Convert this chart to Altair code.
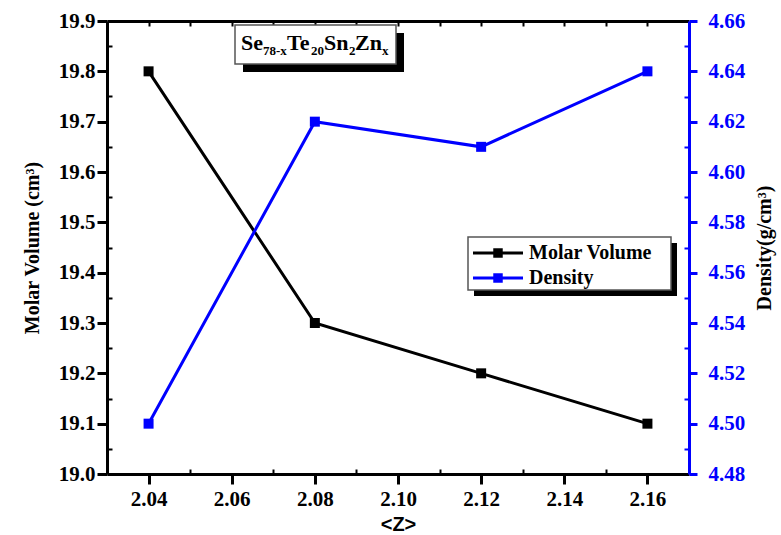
import altair as alt
import pandas as pd

# Average coordination number <Z> and the two measured properties
z = [2.04, 2.08, 2.12, 2.16]
molar_volume = [19.8, 19.3, 19.2, 19.1]
density = [4.50, 4.62, 4.61, 4.64]

# Axis ranges and tick positions
x_domain = [2.03, 2.17]
x_major = [2.04, 2.06, 2.08, 2.10, 2.12, 2.14, 2.16]
x_minor = [2.05, 2.07, 2.09, 2.11, 2.13, 2.15]
x_top = [2.04, 2.05, 2.06, 2.07, 2.08, 2.09, 2.10, 2.11, 2.12, 2.13, 2.14, 2.15, 2.16]
mv_domain = [19.0, 19.9]
mv_major = [19.0, 19.1, 19.2, 19.3, 19.4, 19.5, 19.6, 19.7, 19.8, 19.9]
mv_minor = [19.05, 19.15, 19.25, 19.35, 19.45, 19.55, 19.65, 19.75, 19.85]
d_domain = [4.48, 4.66]
d_major = [4.48, 4.50, 4.52, 4.54, 4.56, 4.58, 4.60, 4.62, 4.64, 4.66]
d_minor = [4.49, 4.51, 4.53, 4.55, 4.57, 4.59, 4.61, 4.63, 4.65]

df = pd.DataFrame({"z": z, "mv": molar_volume, "d": density})

SERIF = "Liberation Serif"
BLUE = "#0000FF"
W, H = 582, 453
LEFT, TOP = 107, 21
TICK_FONT = 21

xs = alt.Scale(domain=x_domain, nice=False, zero=False)
mvs = alt.Scale(domain=mv_domain, nice=False, zero=False)
ds = alt.Scale(domain=d_domain, nice=False, zero=False)

base = alt.Chart(df)

# Molar volume: bottom x axis and left y axis
mv_line = base.mark_line(
    color="black", strokeWidth=3,
    point=alt.OverlayMarkDef(shape="square", size=100, filled=True, color="black", opacity=1),
).encode(
    x=alt.X("z:Q", scale=xs, axis=alt.Axis(
        orient="bottom", values=x_major, format=".2f", grid=False,
        domainColor="black", domainWidth=3, tickColor="black", tickWidth=3, tickSize=10,
        labelFont=SERIF, labelFontSize=TICK_FONT, labelFontWeight="bold", labelColor="black",
        labelPadding=4, title="<Z>", titleFont="Liberation Sans", titleFontSize=20,
        titleFontWeight="bold", titleColor="black", titlePadding=5)),
    y=alt.Y("mv:Q", scale=mvs, axis=alt.Axis(
        orient="left", values=mv_major, format=".1f", grid=False,
        domainColor="black", domainWidth=3, tickColor="black", tickWidth=3, tickSize=10,
        labelFont=SERIF, labelFontSize=TICK_FONT, labelFontWeight="bold", labelColor="black",
        labelPadding=2, title="Molar Volume (cm³)", titleFont=SERIF, titleFontSize=20,
        titleFontWeight="bold", titleColor="black", titlePadding=16)),
)

# Density: top frame line and right y axis
d_line = base.mark_line(
    color=BLUE, strokeWidth=3,
    point=alt.OverlayMarkDef(shape="square", size=100, filled=True, color=BLUE, opacity=1),
).encode(
    x=alt.X("z:Q", scale=xs, axis=alt.Axis(
        orient="top", values=x_major, grid=False, ticks=False, labels=False, title=None,
        domainColor="black", domainWidth=3)),
    y=alt.Y("d:Q", scale=ds, axis=alt.Axis(
        orient="right", values=d_major, format=".2f", grid=False,
        domainColor=BLUE, domainWidth=3, tickColor=BLUE, tickWidth=3, tickSize=8,
        labelFont=SERIF, labelFontSize=TICK_FONT, labelFontWeight="bold", labelColor=BLUE,
        labelPadding=11, title="Density(g/cm³)", titleFont=SERIF, titleFontSize=20,
        titleFontWeight="bold", titleColor="black", titlePadding=30, titleAngle=270)),
)

# Short inward minor ticks on all four sides
minor_left = base.mark_point(opacity=0).encode(
    x=alt.X("z:Q", scale=xs, axis=alt.Axis(
        orient="bottom", values=x_minor, labels=False, domain=False, grid=False, title=None,
        tickColor="black", tickWidth=2, tickSize=5, offset=-5)),
    y=alt.Y("mv:Q", scale=mvs, axis=alt.Axis(
        orient="left", values=mv_minor, labels=False, domain=False, grid=False, title=None,
        tickColor="black", tickWidth=2, tickSize=5, offset=-5)),
)
minor_right = base.mark_point(opacity=0).encode(
    x=alt.X("z:Q", scale=xs, axis=alt.Axis(
        orient="top", values=x_top, labels=False, domain=False, grid=False, title=None,
        tickColor="black", tickWidth=2, tickSize=5, offset=-5)),
    y=alt.Y("d:Q", scale=ds, axis=alt.Axis(
        orient="right", values=d_minor, labels=False, domain=False, grid=False, title=None,
        tickColor=BLUE, tickWidth=2, tickSize=5, offset=-5)),
)

one = alt.Chart(pd.DataFrame({"k": [0]}))


def box(x0, y0, x1, y1, shadow):
    """Framed white box with a black drop shadow (page pixel coordinates)."""
    sh = one.mark_rect(color="black").encode(
        x=alt.value(x0 - LEFT + shadow), x2=alt.value(x1 - LEFT + shadow),
        y=alt.value(y0 - TOP + shadow), y2=alt.value(y1 - TOP + shadow))
    fr = one.mark_rect(fill="white", stroke="#555555", strokeWidth=1.5).encode(
        x=alt.value(x0 - LEFT), x2=alt.value(x1 - LEFT),
        y=alt.value(y0 - TOP), y2=alt.value(y1 - TOP))
    return [sh, fr]


def label(text, x, y, size, baseline="alphabetic"):
    return one.mark_text(
        text=text, font=SERIF, fontSize=size, fontWeight="bold", color="black",
        align="left", baseline=baseline,
    ).encode(x=alt.value(x - LEFT), y=alt.value(y - TOP))


# Composition label Se(78-x)Te(20)Sn(2)Zn(x)
formula = box(235, 25, 396, 64, 8) + [
    label("Se", 241, 50, 22),
    label("78-x", 263, 55, 13),
    label("Te", 287, 50, 22),
    label("20", 311, 55, 13),
    label("Sn", 324, 50, 22),
    label("2", 349, 55, 13),
    label("Zn", 355, 50, 22),
    label("x", 382, 55, 13),
]

# Legend
def entry(color, y):
    ln = one.mark_rule(color=color, strokeWidth=3).encode(
        x=alt.value(473 - LEFT), x2=alt.value(523 - LEFT), y=alt.value(y - TOP))
    sq = one.mark_point(shape="square", size=90, filled=True, color=color, opacity=1).encode(
        x=alt.value(498 - LEFT), y=alt.value(y - TOP))
    return [ln, sq]


legend = box(468, 237, 671, 290, 6) + entry("black", 253) + entry(BLUE, 278) + [
    label("Molar Volume", 529, 253, 20, "middle"),
    label("Density", 529, 278, 20, "middle"),
]

chart = alt.layer(
    minor_left, minor_right, mv_line, d_line, *formula, *legend
).resolve_scale(
    y="independent"
).resolve_axis(
    x="independent", y="independent"
).properties(
    width=W, height=H,
    autosize=alt.AutoSizeParams(type="none"),
    padding={"left": LEFT, "top": TOP, "right": 781 - LEFT - W, "bottom": 535 - TOP - H},
    background="white",
).configure_view(stroke=None)

chart.save("out.html", embed_options={"renderer": "svg", "actions": False})
